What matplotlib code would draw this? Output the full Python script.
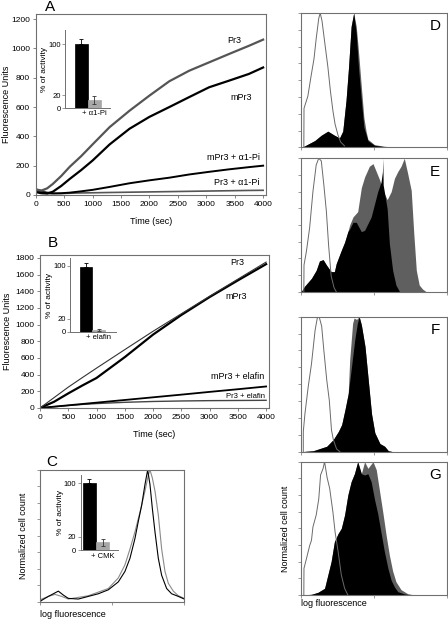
import matplotlib

matplotlib.use("Agg")
import matplotlib.pyplot as plt
import numpy as np
from matplotlib.ticker import LogLocator, NullFormatter

plt.rcParams["font.family"] = ["Liberation Sans", "DejaVu Sans"]

# ---- panel A: kinetics with alpha1-Pi
time_a = [0, 100, 200, 300, 450, 600, 800, 1000, 1300, 1650, 2000, 2350, 2700, 3050, 3400, 3750, 4000]
pr3_a = [35, 30, 45, 75, 130, 193, 265, 345, 463, 575, 678, 776, 848, 905, 962, 1018, 1060]
mpr3_a = [20, 12, 10, 22, 62, 110, 170, 235, 345, 452, 533, 600, 668, 735, 780, 826, 870]
mpr3_pi_a = [30, 20, 12, 10, 12, 16, 25, 35, 55, 80, 100, 118, 140, 158, 175, 190, 200]
pr3_pi_a = [42, 30, 18, 12, 10, 12, 14, 15, 17, 19, 21, 23, 25, 27, 29, 31, 32]

# ---- panel B: kinetics with elafin
time_b = [0, 250, 500, 750, 1000, 1500, 2000, 2500, 3000, 3500, 4000]
pr3_b = [0, 125, 250, 365, 478, 700, 920, 1130, 1340, 1545, 1750]
mpr3_b = [0, 75, 175, 270, 360, 610, 880, 1115, 1330, 1530, 1725]
mpr3_el_b = [0, 16, 32, 48, 64, 96, 128, 160, 193, 225, 258]
pr3_el_b = [0, 15, 30, 43, 53, 68, 78, 84, 88, 90, 92]

# ---- insets: % of activity (control, + inhibitor)
inset_labels = ["+ α1-Pi", "+ elafin", "+ CMK"]
act_a = [100, 13]
err_a = [8, 6]
act_b = [98, 3]
err_b = [6, 1]
act_c = [100, 12]
err_c = [6, 5]

# ---- panel C: histograms (log10 fluorescence, normalized count)
c_black_x = [0.0, 0.046, 0.231, 0.37, 0.508, 0.647, 0.785, 1.063, 1.34, 1.617, 1.894, 2.171, 2.356, 2.495,
             2.633, 2.726, 2.818, 2.911, 2.985, 3.049, 3.114, 3.188, 3.28, 3.373, 3.511, 3.65, 3.835, 4.0]
c_black_y = [0.0, 0.01, 0.04, 0.06, 0.08, 0.05, 0.025, 0.02, 0.04, 0.06, 0.09, 0.15, 0.23, 0.33,
             0.48, 0.61, 0.73, 0.89, 1.0, 0.89, 0.71, 0.53, 0.33, 0.2, 0.1, 0.06, 0.04, 0.02]
c_grey_x = [0.0, 0.046, 0.231, 0.416, 0.601, 0.785, 1.34, 1.894, 2.171, 2.356, 2.495, 2.633, 2.772, 2.911,
            3.003, 3.049, 3.114, 3.188, 3.28, 3.373, 3.465, 3.557, 3.696, 3.835, 4.0]
c_grey_y = [0.0, 0.02, 0.04, 0.055, 0.04, 0.02, 0.045, 0.1, 0.18, 0.28, 0.4, 0.53, 0.68, 0.84,
            0.96, 1.0, 0.94, 0.84, 0.66, 0.4, 0.23, 0.14, 0.08, 0.045, 0.025]

# ---- panels D-G: open (control), grey filled, black filled
d_open_x = [0.07, 0.075, 0.18, 0.275, 0.35, 0.41, 0.48, 0.52, 0.57, 0.64, 0.73, 0.80, 0.87, 0.93, 1.01, 1.08, 1.19]
d_open_y = [0.0, 0.29, 0.38, 0.54, 0.66, 0.81, 0.96, 1.0, 0.94, 0.79, 0.6, 0.42, 0.27, 0.17, 0.09, 0.04, 0.01]
d_black_x = [0.0, 0.09, 0.37, 0.55, 0.73, 0.91, 1.05, 1.14, 1.23, 1.30, 1.37, 1.44, 1.51, 1.57, 1.65, 1.72, 1.83, 2.01, 2.28, 2.65]
d_black_y = [0.0, 0.01, 0.05, 0.09, 0.12, 0.09, 0.07, 0.12, 0.35, 0.6, 0.9, 1.0, 0.85, 0.6, 0.35, 0.15, 0.05, 0.015, 0.005, 0.0]
d_grey_x = [0.0, 0.09, 0.37, 0.55, 0.73, 0.91, 1.05, 1.14, 1.23, 1.30, 1.37, 1.44, 1.51, 1.57, 1.65, 1.72, 1.78, 1.83, 2.01, 2.28, 2.65]
d_grey_y = [0.0, 0.01, 0.05, 0.09, 0.12, 0.09, 0.07, 0.12, 0.35, 0.6, 0.9, 1.0, 0.9, 0.72, 0.45, 0.22, 0.12, 0.06, 0.02, 0.008, 0.0]

e_open_x = [0.07, 0.075, 0.14, 0.23, 0.32, 0.41, 0.48, 0.55, 0.62, 0.69, 0.75, 0.82, 0.9, 0.96]
e_open_y = [0.0, 0.2, 0.3, 0.48, 0.75, 0.95, 1.0, 0.98, 0.8, 0.6, 0.35, 0.12, 0.03, 0.0]
e_black_x = [0.0, 0.09, 0.28, 0.41, 0.5, 0.6, 0.69, 0.82, 0.91, 0.96, 1.1, 1.19, 1.28, 1.33, 1.42, 1.51,
             1.65, 1.74, 1.92, 2.1, 2.19, 2.23, 2.24, 2.25, 2.3, 2.36, 2.42, 2.51, 2.6, 2.7]
e_black_y = [0.0, 0.04, 0.1, 0.16, 0.23, 0.24, 0.2, 0.15, 0.15, 0.21, 0.31, 0.37, 0.45, 0.47, 0.52, 0.52,
             0.45, 0.46, 0.56, 0.75, 0.82, 0.9, 1.0, 0.8, 0.72, 0.62, 0.36, 0.16, 0.05, 0.0]
e_grey_x = [0.0, 0.09, 0.28, 0.41, 0.5, 0.6, 0.69, 0.82, 0.91, 0.96, 1.1, 1.19, 1.28, 1.33, 1.42, 1.55, 1.65,
            1.74, 1.87, 1.97, 2.06, 2.15, 2.24, 2.36, 2.47, 2.56, 2.65, 2.74, 2.83, 2.92, 3.02, 3.09, 3.16,
            3.24, 3.33, 3.43]
e_grey_y = [0.0, 0.04, 0.1, 0.16, 0.23, 0.24, 0.2, 0.15, 0.15, 0.21, 0.31, 0.37, 0.45, 0.5, 0.56, 0.6, 0.78,
            0.86, 0.94, 0.96, 0.9, 0.84, 0.76, 0.69, 0.75, 0.85, 0.9, 0.94, 1.0, 0.89, 0.76, 0.44, 0.16,
            0.05, 0.02, 0.0]

f_open_x = [0.055, 0.056, 0.1, 0.19, 0.28, 0.38, 0.44, 0.49, 0.56, 0.62, 0.7, 0.77, 0.83, 0.88, 0.97, 1.06]
f_open_y = [0.0, 0.15, 0.28, 0.48, 0.65, 0.9, 0.99, 1.0, 0.93, 0.75, 0.53, 0.38, 0.16, 0.09, 0.02, 0.0]
f_black_x = [0.0, 0.33, 0.7, 0.88, 1.02, 1.11, 1.2, 1.29, 1.38, 1.47, 1.54, 1.59, 1.65, 1.75, 1.84, 1.93,
             2.02, 2.16, 2.29, 2.39, 2.52]
f_black_y = [0.0, 0.007, 0.04, 0.09, 0.15, 0.2, 0.31, 0.43, 0.63, 0.83, 0.95, 1.0, 0.94, 0.78, 0.53, 0.28,
             0.14, 0.06, 0.04, 0.007, 0.0]
f_grey_x = [0.0, 0.33, 0.7, 0.88, 1.02, 1.11, 1.2, 1.29, 1.33, 1.41, 1.45, 1.52, 1.59, 1.65, 1.75, 1.84,
            1.93, 2.02, 2.16, 2.29, 2.39, 2.52]
f_grey_y = [0.0, 0.007, 0.04, 0.09, 0.15, 0.2, 0.31, 0.43, 0.68, 0.95, 0.99, 0.98, 1.0, 0.94, 0.78, 0.53,
            0.28, 0.14, 0.06, 0.04, 0.007, 0.0]

g_open_x = [0.07, 0.074, 0.14, 0.23, 0.28, 0.32, 0.41, 0.48, 0.53, 0.6, 0.64, 0.71, 0.78, 0.87, 0.93,
            1.01, 1.1, 1.19, 1.28]
g_open_y = [0.0, 0.2, 0.27, 0.37, 0.41, 0.51, 0.6, 0.72, 0.9, 0.95, 1.0, 0.88, 0.8, 0.62, 0.47, 0.33,
            0.15, 0.05, 0.0]
g_black_x = [0.0, 0.28, 0.46, 0.64, 0.73, 0.82, 0.91, 1.01, 1.1, 1.19, 1.28, 1.37, 1.46, 1.55, 1.65, 1.74,
             1.83, 1.92, 2.01, 2.1, 2.19, 2.28, 2.38, 2.47, 2.56, 2.65, 2.83, 3.02]
g_black_y = [0.0, 0.005, 0.02, 0.05, 0.15, 0.25, 0.4, 0.46, 0.5, 0.6, 0.75, 0.85, 0.91, 1.0, 0.91, 0.9,
             0.91, 0.85, 0.72, 0.61, 0.47, 0.33, 0.2, 0.11, 0.06, 0.025, 0.008, 0.0]
g_grey_x = [0.0, 0.28, 0.46, 0.64, 0.73, 0.82, 0.91, 1.01, 1.1, 1.19, 1.28, 1.37, 1.46, 1.55, 1.65, 1.74,
            1.83, 1.97, 2.06, 2.15, 2.24, 2.33, 2.42, 2.51, 2.6, 2.74, 2.92, 3.11]
g_grey_y = [0.0, 0.005, 0.02, 0.05, 0.15, 0.25, 0.4, 0.46, 0.5, 0.6, 0.75, 0.85, 0.91, 1.0, 0.91, 1.0,
            0.95, 1.0, 0.94, 0.78, 0.62, 0.45, 0.3, 0.18, 0.1, 0.04, 0.01, 0.0]

FRAME = "#707070"
GREY_FILL = "#5f5f5f"
OPEN_LINE = "#6a6a6a"


def style_frame(ax):
    for sp in ax.spines.values():
        sp.set_color(FRAME)
        sp.set_linewidth(0.8)


def kinetics_axes(ax, ylim, yticks, ylabel_x):
    style_frame(ax)
    ax.set_xlim(0, 4050)
    ax.set_ylim(*ylim)
    ax.set_xticks(range(0, 4001, 500))
    ax.set_yticks(yticks)
    ax.tick_params(labelsize=6, length=2.5, width=0.6, color=FRAME, pad=1.5)
    ax.set_xlabel("Time (sec)", fontsize=6.5, labelpad=7)
    ax.set_ylabel("Fluorescence Units", fontsize=6.5)
    ax.yaxis.set_label_coords(ylabel_x, 0.5)


def inset_bars(rect, values, errors, label, ymax, xlim):
    ins = fig.add_axes(rect)
    ins.bar([0], values[0], width=1.0, color="black", edgecolor="black", lw=0.5)
    ins.bar([1], values[1], width=1.0, color="#a8a8a8", edgecolor="#a8a8a8", lw=0.5)
    ins.errorbar([0], [values[0]], yerr=[[0], [errors[0]]], color="black", capsize=1.5, lw=0.6, capthick=0.6)
    ins.errorbar([1], [values[1]], yerr=[[errors[1]], [errors[1]]], color="#333333", capsize=1.5, lw=0.6,
                 capthick=0.6)
    ins.set_xlim(*xlim)
    ins.set_ylim(0, ymax)
    ins.set_yticks([0, 20, 100])
    ins.set_xticks([1])
    ins.set_xticklabels([label])
    ins.spines["top"].set_visible(False)
    ins.spines["right"].set_visible(False)
    for sp in ("left", "bottom"):
        ins.spines[sp].set_color(FRAME)
        ins.spines[sp].set_linewidth(0.7)
    ins.tick_params(axis="y", labelsize=5.5, length=2, width=0.5, pad=1, color=FRAME)
    ins.tick_params(axis="x", labelsize=5.5, length=0, pad=1.5)
    ins.set_ylabel("% of activity", fontsize=6, labelpad=0)
    ins.patch.set_alpha(0)
    return ins


def hist_axes(ax):
    style_frame(ax)
    ax.set_xscale("log")
    ax.set_xlim(1, 1e4)
    ax.set_ylim(0, 1.0)
    ax.set_yticks(np.linspace(0, 1, 9))
    ax.xaxis.set_major_locator(LogLocator(base=10))
    ax.xaxis.set_minor_locator(LogLocator(base=10, subs=np.arange(2, 10)))
    ax.xaxis.set_minor_formatter(NullFormatter())
    ax.tick_params(labelbottom=False, labelleft=False, length=2, width=0.5, color=FRAME)
    ax.tick_params(which="minor", length=1.2, width=0.4, color=FRAME)


def flow_panel(ax, open_x, open_y, grey_x, grey_y, black_x, black_y, letter):
    hist_axes(ax)
    ox = 10 ** np.array(open_x)
    ax.fill_between(ox, open_y, color="white", lw=0)
    ax.plot(ox, open_y, color=OPEN_LINE, lw=0.7)
    ax.fill_between(10 ** np.array(grey_x), grey_y, color=GREY_FILL, lw=0)
    ax.fill_between(10 ** np.array(black_x), black_y, color="black", lw=0)
    ax.text(0.92, 0.9, letter, transform=ax.transAxes, fontsize=11, ha="center", va="center")


fig = plt.figure(figsize=(4.48, 6.19), dpi=100)

# panel A
ax_a = fig.add_axes([0.0797, 0.685, 0.514, 0.2924])
ax_a.plot(time_a, pr3_pi_a, color="#555555", lw=1.2)
ax_a.plot(time_a, mpr3_pi_a, color="black", lw=1.4)
ax_a.plot(time_a, mpr3_a, color="black", lw=1.6)
ax_a.plot(time_a, pr3_a, color="#555555", lw=1.6)
kinetics_axes(ax_a, (0, 1235), range(0, 1201, 200), -0.107)
ax_a.text(3485, 1054, "Pr3", fontsize=6.5, ha="center", va="center")
ax_a.text(3608, 667, "mPr3", fontsize=6.5, ha="center", va="center")
ax_a.text(3485, 258, "mPr3 + α1-Pi", fontsize=6.5, ha="center", va="center")
ax_a.text(3538, 82, "Pr3 + α1-Pi", fontsize=6.5, ha="center", va="center")
inset_bars([0.145, 0.8255, 0.1004, 0.126], act_a, err_a, inset_labels[0], 122, (-1.27, 2.19))

# panel B
ax_b = fig.add_axes([0.0893, 0.3409, 0.511, 0.2472])
ax_b.plot(time_b, pr3_el_b, color="#444444", lw=1.0)
ax_b.plot(time_b, mpr3_el_b, color="black", lw=1.3)
ax_b.plot(time_b, mpr3_b, color="black", lw=1.6)
ax_b.plot(time_b, pr3_b, color="#333333", lw=0.8)
kinetics_axes(ax_b, (0, 1835), range(0, 1801, 200), -0.122)
ax_b.text(3496, 1747, "Pr3", fontsize=6.5, ha="center", va="center")
ax_b.text(3478, 1342, "mPr3", fontsize=6.5, ha="center", va="center")
ax_b.text(3504, 378, "mPr3 + elafin", fontsize=6.5, ha="center", va="center")
ax_b.text(3628, 137, "Pr3 + elafin", fontsize=5.5, ha="center", va="center")
inset_bars([0.1563, 0.4637, 0.1027, 0.1195], act_b, err_b, inset_labels[1], 112, (-1.27, 2.38))

# panel C
ax_c = fig.add_axes([0.0893, 0.028, 0.322, 0.2128])
hist_axes(ax_c)
ax_c.plot(10 ** np.array(c_grey_x), c_grey_y, color="#8a8a8a", lw=0.8)
ax_c.plot(10 ** np.array(c_black_x), c_black_y, color="black", lw=0.8)
ax_c.set_xlabel("log fluorescence", fontsize=6.5, loc="left", labelpad=4)
ax_c.set_ylabel("Normalized cell count", fontsize=6.5)
ax_c.yaxis.set_label_coords(-0.083, 0.5)
inset_bars([0.1797, 0.1107, 0.0837, 0.122], act_c, err_c, inset_labels[2], 112, (-0.69, 2.19))

# panels D-G
ax_d = fig.add_axes([0.6725, 0.762, 0.325, 0.217])
flow_panel(ax_d, d_open_x, d_open_y, d_grey_x, d_grey_y, d_black_x, d_black_y, "D")
ax_e = fig.add_axes([0.6725, 0.5288, 0.325, 0.2155])
flow_panel(ax_e, e_open_x, e_open_y, e_grey_x, e_grey_y, e_black_x, e_black_y, "E")
ax_f = fig.add_axes([0.6725, 0.2703, 0.325, 0.2181])
flow_panel(ax_f, f_open_x, f_open_y, f_grey_x, f_grey_y, f_black_x, f_black_y, "F")
ax_g = fig.add_axes([0.6725, 0.0388, 0.325, 0.2153])
flow_panel(ax_g, g_open_x, g_open_y, g_grey_x, g_grey_y, g_black_x, g_black_y, "G")
ax_g.set_xlabel("log fluorescence", fontsize=6.5, loc="left", labelpad=1)
ax_g.set_ylabel("Normalized cell count", fontsize=6.5)
ax_g.yaxis.set_label_coords(-0.078, 0.5)

# panel letters
fig.text(50 / 448, 1 - 7 / 619, "A", fontsize=11, ha="center", va="center")
fig.text(53 / 448, 1 - 243 / 619, "B", fontsize=11, ha="center", va="center")
fig.text(52 / 448, 1 - 462 / 619, "C", fontsize=11, ha="center", va="center")

fig.savefig("out.png", dpi=100)
